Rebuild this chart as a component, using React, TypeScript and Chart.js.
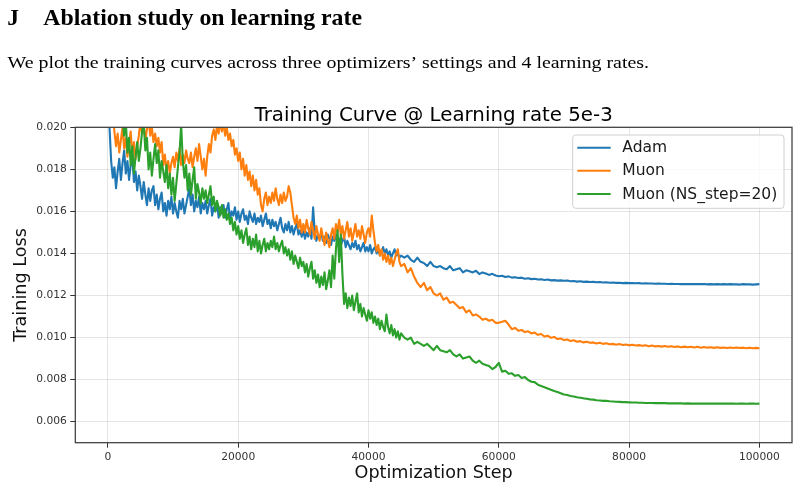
import React, { useEffect, useRef } from 'react';
import { Chart, registerables } from 'chart.js';

Chart.register(...registerables);

// Loss is logged every 250 steps up to step 45000, then every 500 steps to 100000.
const FINE_INTERVAL = 250;
const FINE_END = 45000;
const COARSE_INTERVAL = 500;
const LAST_STEP = 100000;

const steps = [
  ...Array.from({ length: FINE_END / FINE_INTERVAL + 1 }, (_, i) => i * FINE_INTERVAL),
  ...Array.from({ length: (LAST_STEP - FINE_END) / COARSE_INTERVAL }, (_, i) => FINE_END + (i + 1) * COARSE_INTERVAL),
];

const adamLoss = [
  // 0 .. 45000 (every 250)
  0.0250, 0.0200, 0.0184, 0.0176, 0.0181, 0.0171, 0.0179, 0.0185, 0.0175, 0.0183,
  0.0189, 0.0178, 0.0184, 0.0175, 0.0182, 0.0186, 0.0174, 0.0179, 0.0170, 0.0177,
  0.0172, 0.0166, 0.0174, 0.0168, 0.0163, 0.0171, 0.0165, 0.0170, 0.0172, 0.0163,
  0.0168, 0.0161, 0.0166, 0.0169, 0.0160, 0.0164, 0.0158, 0.0165, 0.0161, 0.0167,
  0.0159, 0.0164, 0.0160, 0.0157, 0.0165, 0.0161, 0.0166, 0.0159, 0.0163, 0.0167,
  0.0171, 0.0163, 0.0168, 0.0160, 0.0165, 0.0162, 0.0167, 0.0159, 0.0164, 0.0161,
  0.0165, 0.0159, 0.0163, 0.0166, 0.0158, 0.0162, 0.0160, 0.0164, 0.0157, 0.0162,
  0.0159, 0.0163, 0.0157, 0.0161, 0.0164, 0.0156, 0.0160, 0.0158, 0.0162, 0.0156,
  0.0160, 0.0155, 0.0159, 0.0161, 0.0156, 0.0158, 0.0154, 0.0160, 0.0157, 0.0155,
  0.0159, 0.0154, 0.0157, 0.0155, 0.0158, 0.0153, 0.0156, 0.0159, 0.0154, 0.0156,
  0.0152, 0.0156, 0.0153, 0.0155, 0.0151, 0.0154, 0.0157, 0.0152, 0.0150, 0.0154,
  0.0151, 0.0155, 0.0150, 0.0153, 0.0149, 0.0152, 0.0154, 0.0149, 0.0151, 0.0148,
  0.0151, 0.0147, 0.0150, 0.0148, 0.0152, 0.0147, 0.0162, 0.0150, 0.0146, 0.0149,
  0.0147, 0.0150, 0.0146, 0.0148, 0.0145, 0.0149, 0.0147, 0.0144, 0.0148, 0.0146,
  0.0149, 0.0145, 0.0147, 0.0144, 0.0146, 0.0148, 0.0143, 0.0146, 0.0144, 0.0142,
  0.0145, 0.0143, 0.0146, 0.0142, 0.0144, 0.0141, 0.0143, 0.0145, 0.0141, 0.0143,
  0.0141, 0.0144, 0.0140, 0.0142, 0.0143, 0.0140, 0.0142, 0.0139, 0.0141, 0.0143,
  0.0140, 0.0142, 0.0139, 0.0141, 0.0138, 0.0140, 0.0142, 0.0139, 0.0140, 0.0138, 0.0139,
  // 45500 .. 100000 (every 500)
  0.0138, 0.0139, 0.0137, 0.0136, 0.0138, 0.0136, 0.01355, 0.0134, 0.0136, 0.0134,
  0.01335, 0.0134, 0.0133, 0.01325, 0.0134, 0.0132, 0.01325, 0.0133, 0.0131, 0.0132,
  0.01315, 0.0131, 0.01318, 0.01302, 0.0131, 0.01305, 0.01298, 0.01303, 0.01295, 0.01292,
  0.01294, 0.01288, 0.01291, 0.01285, 0.01287, 0.01283, 0.01285, 0.01280, 0.01282, 0.01278,
  0.01280, 0.01276, 0.01277, 0.01274, 0.01276, 0.01272, 0.01273, 0.01271, 0.01272, 0.01270,
  0.01271, 0.01268, 0.01269, 0.01266, 0.01268, 0.01265, 0.01266, 0.01264, 0.01265, 0.01263,
  0.01264, 0.01262, 0.01263, 0.01261, 0.01262, 0.01260, 0.01261, 0.01259, 0.01260, 0.01259,
  0.01259, 0.01258, 0.01259, 0.01257, 0.01258, 0.01257, 0.01257, 0.01256, 0.01257, 0.01256,
  0.01256, 0.01255, 0.01256, 0.01255, 0.01255, 0.01254, 0.01255, 0.01254, 0.01255, 0.01254,
  0.01254, 0.01254, 0.01255, 0.01253, 0.01254, 0.01253, 0.01254, 0.01253, 0.01254, 0.01253,
  0.01254, 0.01253, 0.01253, 0.01252, 0.01254, 0.01253, 0.01253, 0.01252, 0.01253, 0.01254,
];

const muonLoss = [
  // 0 .. 45000 (every 250)
  0.0330, 0.0260, 0.0225, 0.0208, 0.0198, 0.0191, 0.0197, 0.0188, 0.0194, 0.0200,
  0.0190, 0.0195, 0.0186, 0.0192, 0.0198, 0.0187, 0.0193, 0.0185, 0.0191, 0.0196,
  0.0203, 0.0197, 0.0201, 0.0194, 0.0199, 0.0204, 0.0196, 0.0200, 0.0193, 0.0197,
  0.0191, 0.0195, 0.0188, 0.0193, 0.0182, 0.0187, 0.0179, 0.0184, 0.0178, 0.0183,
  0.0186, 0.0181, 0.0188, 0.0184, 0.0190, 0.0182, 0.0187, 0.0183, 0.0189, 0.0185,
  0.0183, 0.0188, 0.0181, 0.0186, 0.0190, 0.0184, 0.0192, 0.0186, 0.0180, 0.0185,
  0.0177, 0.0186, 0.0192, 0.0188, 0.0196, 0.0199, 0.0194, 0.0201, 0.0197, 0.0203,
  0.0198, 0.0202, 0.0196, 0.0200, 0.0194, 0.0197, 0.0191, 0.0194, 0.0187, 0.0190,
  0.0184, 0.0188, 0.0180, 0.0185, 0.0177, 0.0182, 0.0175, 0.0179, 0.0172, 0.0177,
  0.0170, 0.0175, 0.0168, 0.0171, 0.0163, 0.0160, 0.0166, 0.0169, 0.0163, 0.0167,
  0.0164, 0.0169, 0.0165, 0.0171, 0.0166, 0.0163, 0.0168, 0.0164, 0.0169, 0.0165,
  0.0167, 0.0172, 0.0169, 0.0163, 0.0157, 0.0154, 0.0158, 0.0152, 0.0156, 0.0150,
  0.0154, 0.0150, 0.0156, 0.0152, 0.0149, 0.0155, 0.0151, 0.0147, 0.0153, 0.0149,
  0.0146, 0.0152, 0.0148, 0.0144, 0.0150, 0.0146, 0.0143, 0.0149, 0.0152, 0.0147,
  0.0154, 0.0150, 0.0156, 0.0149, 0.0153, 0.0147, 0.0151, 0.0155, 0.0148, 0.0152,
  0.0146, 0.0150, 0.0154, 0.0148, 0.0151, 0.0147, 0.0153, 0.0149, 0.0145, 0.0150,
  0.0152, 0.0148, 0.0158, 0.0151, 0.0145, 0.0141, 0.0144, 0.0139, 0.0142, 0.0137,
  0.0140, 0.0136, 0.0139, 0.0135, 0.0138, 0.0134, 0.0137, 0.0140, 0.0142, 0.0136, 0.0134,
  // 45500 .. 100000 (every 500)
  0.0135, 0.0131, 0.0133, 0.0129, 0.0126, 0.0124, 0.0126, 0.01225, 0.0124, 0.0121,
  0.0120, 0.0121, 0.0118, 0.0119, 0.01165, 0.0117, 0.01155, 0.0114, 0.01145, 0.0112,
  0.0113, 0.01105, 0.0111, 0.0110, 0.01085, 0.0109, 0.0108, 0.01085, 0.0107, 0.0107,
  0.01075, 0.0108, 0.01062, 0.0104, 0.01046, 0.01032, 0.01036, 0.01026, 0.0103, 0.0102,
  0.01024, 0.01013, 0.01017, 0.01005, 0.01009, 0.00999, 0.01003, 0.00993, 0.00996, 0.00988,
  0.00991, 0.00984, 0.00987, 0.00980, 0.00983, 0.00977, 0.00980, 0.00975, 0.00977, 0.00972,
  0.00975, 0.00970, 0.00973, 0.00968, 0.00970, 0.00966, 0.00969, 0.00965, 0.00967, 0.00963,
  0.00966, 0.00962, 0.00964, 0.00961, 0.00963, 0.00959, 0.00962, 0.00958, 0.00960, 0.00957,
  0.00960, 0.00956, 0.00959, 0.00955, 0.00958, 0.00954, 0.00957, 0.00954, 0.00956, 0.00953,
  0.00956, 0.00952, 0.00955, 0.00952, 0.00954, 0.00951, 0.00954, 0.00951, 0.00953, 0.00950,
  0.00953, 0.00950, 0.00953, 0.00950, 0.00952, 0.00949, 0.00952, 0.00949, 0.00951, 0.00949,
];

const muonNs20Loss = [
  // 0 .. 45000 (every 250)
  0.0420, 0.0330, 0.0280, 0.0250, 0.0232, 0.0220, 0.0212, 0.0206, 0.0201, 0.0204,
  0.0196, 0.0203, 0.0188, 0.0195, 0.0182, 0.0191, 0.0178, 0.0186, 0.0193, 0.0184,
  0.0190, 0.0198, 0.0202, 0.0189, 0.0195, 0.0180, 0.0188, 0.0177, 0.0185, 0.0192,
  0.0183, 0.0189, 0.0176, 0.0184, 0.0179, 0.0174, 0.0182, 0.0171, 0.0178, 0.0168,
  0.0176, 0.0165, 0.0173, 0.0181, 0.0188, 0.0201, 0.0184, 0.0176, 0.0182, 0.0170,
  0.0178, 0.0168, 0.0175, 0.0181, 0.0166, 0.0173, 0.0169, 0.0164, 0.0171, 0.0166,
  0.0170, 0.0164, 0.0168, 0.0172, 0.0163, 0.0167, 0.0160, 0.0165, 0.0162, 0.0158,
  0.0163, 0.0157, 0.0161, 0.0156, 0.0159, 0.0154, 0.0157, 0.0151, 0.0155, 0.0149,
  0.0153, 0.0147, 0.0151, 0.0145, 0.0149, 0.0152, 0.0144, 0.0148, 0.0142, 0.0147,
  0.0143, 0.0149, 0.0141, 0.0146, 0.0140, 0.0144, 0.0147, 0.0141, 0.0145, 0.0142,
  0.0146, 0.0143, 0.0148, 0.0142, 0.0145, 0.0141, 0.0144, 0.0146, 0.0140, 0.0143,
  0.0139, 0.0142, 0.0137, 0.0141, 0.0135, 0.0139, 0.0136, 0.0133, 0.0138, 0.0134,
  0.0136, 0.0131, 0.0135, 0.0129, 0.0133, 0.0136, 0.0128, 0.0132, 0.0126, 0.0130,
  0.0124, 0.0129, 0.0125, 0.0131, 0.0123, 0.0127, 0.0132, 0.0124, 0.0139, 0.0128,
  0.0142, 0.0151, 0.0136, 0.0149, 0.0130, 0.0116, 0.0121, 0.0114, 0.0119, 0.0115,
  0.0120, 0.0113, 0.0117, 0.0121, 0.0112, 0.0116, 0.0110, 0.0114, 0.0111, 0.0108,
  0.0113, 0.0109, 0.0112, 0.0107, 0.0110, 0.0106, 0.0109, 0.0104, 0.0108, 0.0105,
  0.0103, 0.0111, 0.0105, 0.0102, 0.0106, 0.0101, 0.0104, 0.0100, 0.0103, 0.0099, 0.0102,
  // 45500 .. 100000 (every 500)
  0.0100, 0.0099, 0.0100, 0.0097, 0.0098, 0.0097, 0.0096, 0.0097, 0.00955, 0.0094,
  0.0096, 0.0094, 0.00935, 0.0093, 0.0094, 0.0092, 0.0091, 0.0092, 0.0090, 0.00905,
  0.0091, 0.0089, 0.0088, 0.0089, 0.00875, 0.0087, 0.00865, 0.0085, 0.0086, 0.0088,
  0.00838, 0.00842, 0.00828, 0.00830, 0.00818, 0.00822, 0.00808, 0.00812, 0.00798, 0.00790,
  0.00788, 0.00776, 0.00770, 0.00764, 0.00758, 0.00752, 0.00746, 0.00741, 0.00735, 0.00729,
  0.00727, 0.00722, 0.00720, 0.00716, 0.00714, 0.00711, 0.00709, 0.00706, 0.00705, 0.00702,
  0.00701, 0.00699, 0.00699, 0.00697, 0.00696, 0.00695, 0.00694, 0.00693, 0.00693, 0.00692,
  0.00691, 0.00691, 0.00690, 0.00690, 0.00689, 0.00689, 0.00689, 0.00688, 0.00688, 0.00688,
  0.00688, 0.00687, 0.00687, 0.00687, 0.00687, 0.00687, 0.00686, 0.00687, 0.00686, 0.00686,
  0.00686, 0.00686, 0.00686, 0.00686, 0.00686, 0.00686, 0.00686, 0.00686, 0.00686, 0.00686,
  0.00686, 0.00686, 0.00685, 0.00686, 0.00686, 0.00685, 0.00686, 0.00686, 0.00685, 0.00686,
];

const seriesNames = ['Adam', 'Muon', 'Muon (NS_step=20)'];
const seriesColors = ['#1f77b4', '#ff7f0e', '#2ca02c'];
const seriesLoss = [adamLoss, muonLoss, muonNs20Loss];

const xTickValues = [0, 20000, 40000, 60000, 80000, 100000];
const yTickValues = [0.006, 0.008, 0.01, 0.012, 0.014, 0.016, 0.018, 0.02];

const chartTitle = 'Training Curve @ Learning rate 5e-3';
const xAxisTitle = 'Optimization Step';
const yAxisTitle = 'Training Loss';

const sectionNumber = 'J';
const sectionHeading = 'Ablation study on learning rate';
const sectionText =
  'We plot the training curves across three optimizers\u2019 settings and 4 learning rates.';

const SANS = '"DejaVu Sans", sans-serif';
const SERIF = '"Liberation Serif", "Times New Roman", serif';

// Draw text stretched or squeezed to an exact width.
function fitText(ctx: CanvasRenderingContext2D, text: string, x: number, y: number, width: number) {
  const natural = ctx.measureText(text).width;
  ctx.save();
  ctx.translate(x, y);
  ctx.scale(width / natural, 1);
  ctx.fillText(text, 0, 0);
  ctx.restore();
}

const pageDecorations = {
  id: 'pageDecorations',
  afterDraw(chart: any) {
    const { ctx, chartArea: a } = chart;
    ctx.save();

    // axes frame (all four spines)
    ctx.strokeStyle = '#3d3d3d';
    ctx.lineWidth = 1.25;
    ctx.strokeRect(a.left, a.top, a.right - a.left, a.bottom - a.top);

    // plot title
    ctx.fillStyle = '#000';
    ctx.font = `19.8px ${SANS}`;
    ctx.textAlign = 'center';
    ctx.textBaseline = 'alphabetic';
    ctx.fillText(chartTitle, (a.left + a.right) / 2, a.top - 6.6);

    // legend box in the upper right corner
    const lx = a.right - 219.3;
    const ly = a.top + 7.7;
    const lw = 211.3;
    const lh = 73.3;
    ctx.beginPath();
    ctx.roundRect(lx, ly, lw, lh, 3);
    ctx.fillStyle = 'rgba(255,255,255,0.8)';
    ctx.fill();
    ctx.strokeStyle = '#d0d0d0';
    ctx.lineWidth = 1;
    ctx.stroke();

    ctx.font = `15.5px ${SANS}`;
    ctx.textAlign = 'left';
    ctx.textBaseline = 'middle';
    seriesNames.forEach((name, i) => {
      const rowY = ly + 12.7 + i * 23.15;
      ctx.strokeStyle = seriesColors[i];
      ctx.lineWidth = 2;
      ctx.beginPath();
      ctx.moveTo(lx + 4.6, rowY);
      ctx.lineTo(lx + 38, rowY);
      ctx.stroke();
      ctx.fillStyle = '#1a1a1a';
      ctx.fillText(name, lx + 49.6, rowY + 0.5);
    });

    // section heading and paragraph above the figure
    ctx.fillStyle = '#000';
    ctx.textAlign = 'left';
    ctx.textBaseline = 'alphabetic';
    ctx.font = `bold 23.5px ${SERIF}`;
    ctx.fillText(sectionNumber, 7.3, 24.5);
    fitText(ctx, sectionHeading, 43.3, 24.5, 318.7);
    ctx.font = `17.6px ${SERIF}`;
    fitText(ctx, sectionText, 7.5, 68.3, 641.5);

    ctx.restore();
  },
};

export default function App() {
  const canvasRef = useRef<HTMLCanvasElement | null>(null);

  useEffect(() => {
    const canvas = canvasRef.current;
    if (!canvas) return;

    const datasets = seriesLoss.map((loss, i) => ({
      label: seriesNames[i],
      data: loss.map((v, j) => ({ x: steps[j], y: v })),
      borderColor: seriesColors[i],
      backgroundColor: seriesColors[i],
      borderWidth: 2.1,
      borderJoinStyle: 'round' as const,
      pointRadius: 0,
      tension: 0,
      fill: false,
      // later series are painted over earlier ones
      order: seriesNames.length - i,
    }));

    const tickFont = { family: SANS, size: 10.7 };
    const axisTitleFont = { family: SANS, size: 17.6 };

    const chart = new Chart(canvas, {
      type: 'line',
      data: { datasets },
      plugins: [pageDecorations],
      options: {
        animation: false,
        responsive: false,
        devicePixelRatio: 1,
        layout: { padding: { left: 0, right: 7, top: 127.3, bottom: 0 } },
        plugins: {
          legend: { display: false },
          title: { display: false },
          tooltip: { enabled: false },
        },
        scales: {
          x: {
            type: 'linear',
            min: -5000,
            max: 105000,
            afterBuildTicks: (scale: any) => {
              scale.ticks = xTickValues.map((value) => ({ value }));
            },
            afterFit: (scale: any) => {
              scale.height = 45.3;
            },
            border: { display: false },
            grid: {
              color: 'rgba(0,0,0,0.1)',
              lineWidth: 1,
              tickLength: 5,
              tickColor: '#333',
              tickWidth: 1,
            },
            ticks: {
              autoSkip: false,
              maxRotation: 0,
              padding: 3,
              color: '#333',
              font: tickFont,
              callback: (value: any) => String(value),
            },
            title: {
              display: true,
              text: xAxisTitle,
              color: '#111',
              font: axisTitleFont,
              padding: { top: 0, bottom: 4.5 },
            },
          },
          y: {
            type: 'linear',
            min: 0.005,
            max: 0.02,
            afterBuildTicks: (scale: any) => {
              scale.ticks = yTickValues.map((value) => ({ value }));
            },
            afterFit: (scale: any) => {
              scale.width = 75.3;
            },
            border: { display: false },
            grid: {
              color: 'rgba(0,0,0,0.1)',
              lineWidth: 1,
              tickLength: 5,
              tickColor: '#333',
              tickWidth: 1,
            },
            ticks: {
              autoSkip: false,
              padding: 3.5,
              color: '#333',
              font: tickFont,
              callback: (value: any) => Number(value).toFixed(3),
            },
            title: {
              display: true,
              text: yAxisTitle,
              color: '#111',
              font: axisTitleFont,
              padding: { top: 11.1, bottom: 0 },
            },
          },
        },
      },
    });

    return () => chart.destroy();
  }, []);

  return (
    <div
      style={{
        position: 'absolute',
        left: 0,
        top: 0,
        width: 799,
        height: 488,
        background: '#fff',
      }}
    >
      <canvas ref={canvasRef} width={799} height={488} style={{ display: 'block', width: 799, height: 488 }} />
    </div>
  );
}
